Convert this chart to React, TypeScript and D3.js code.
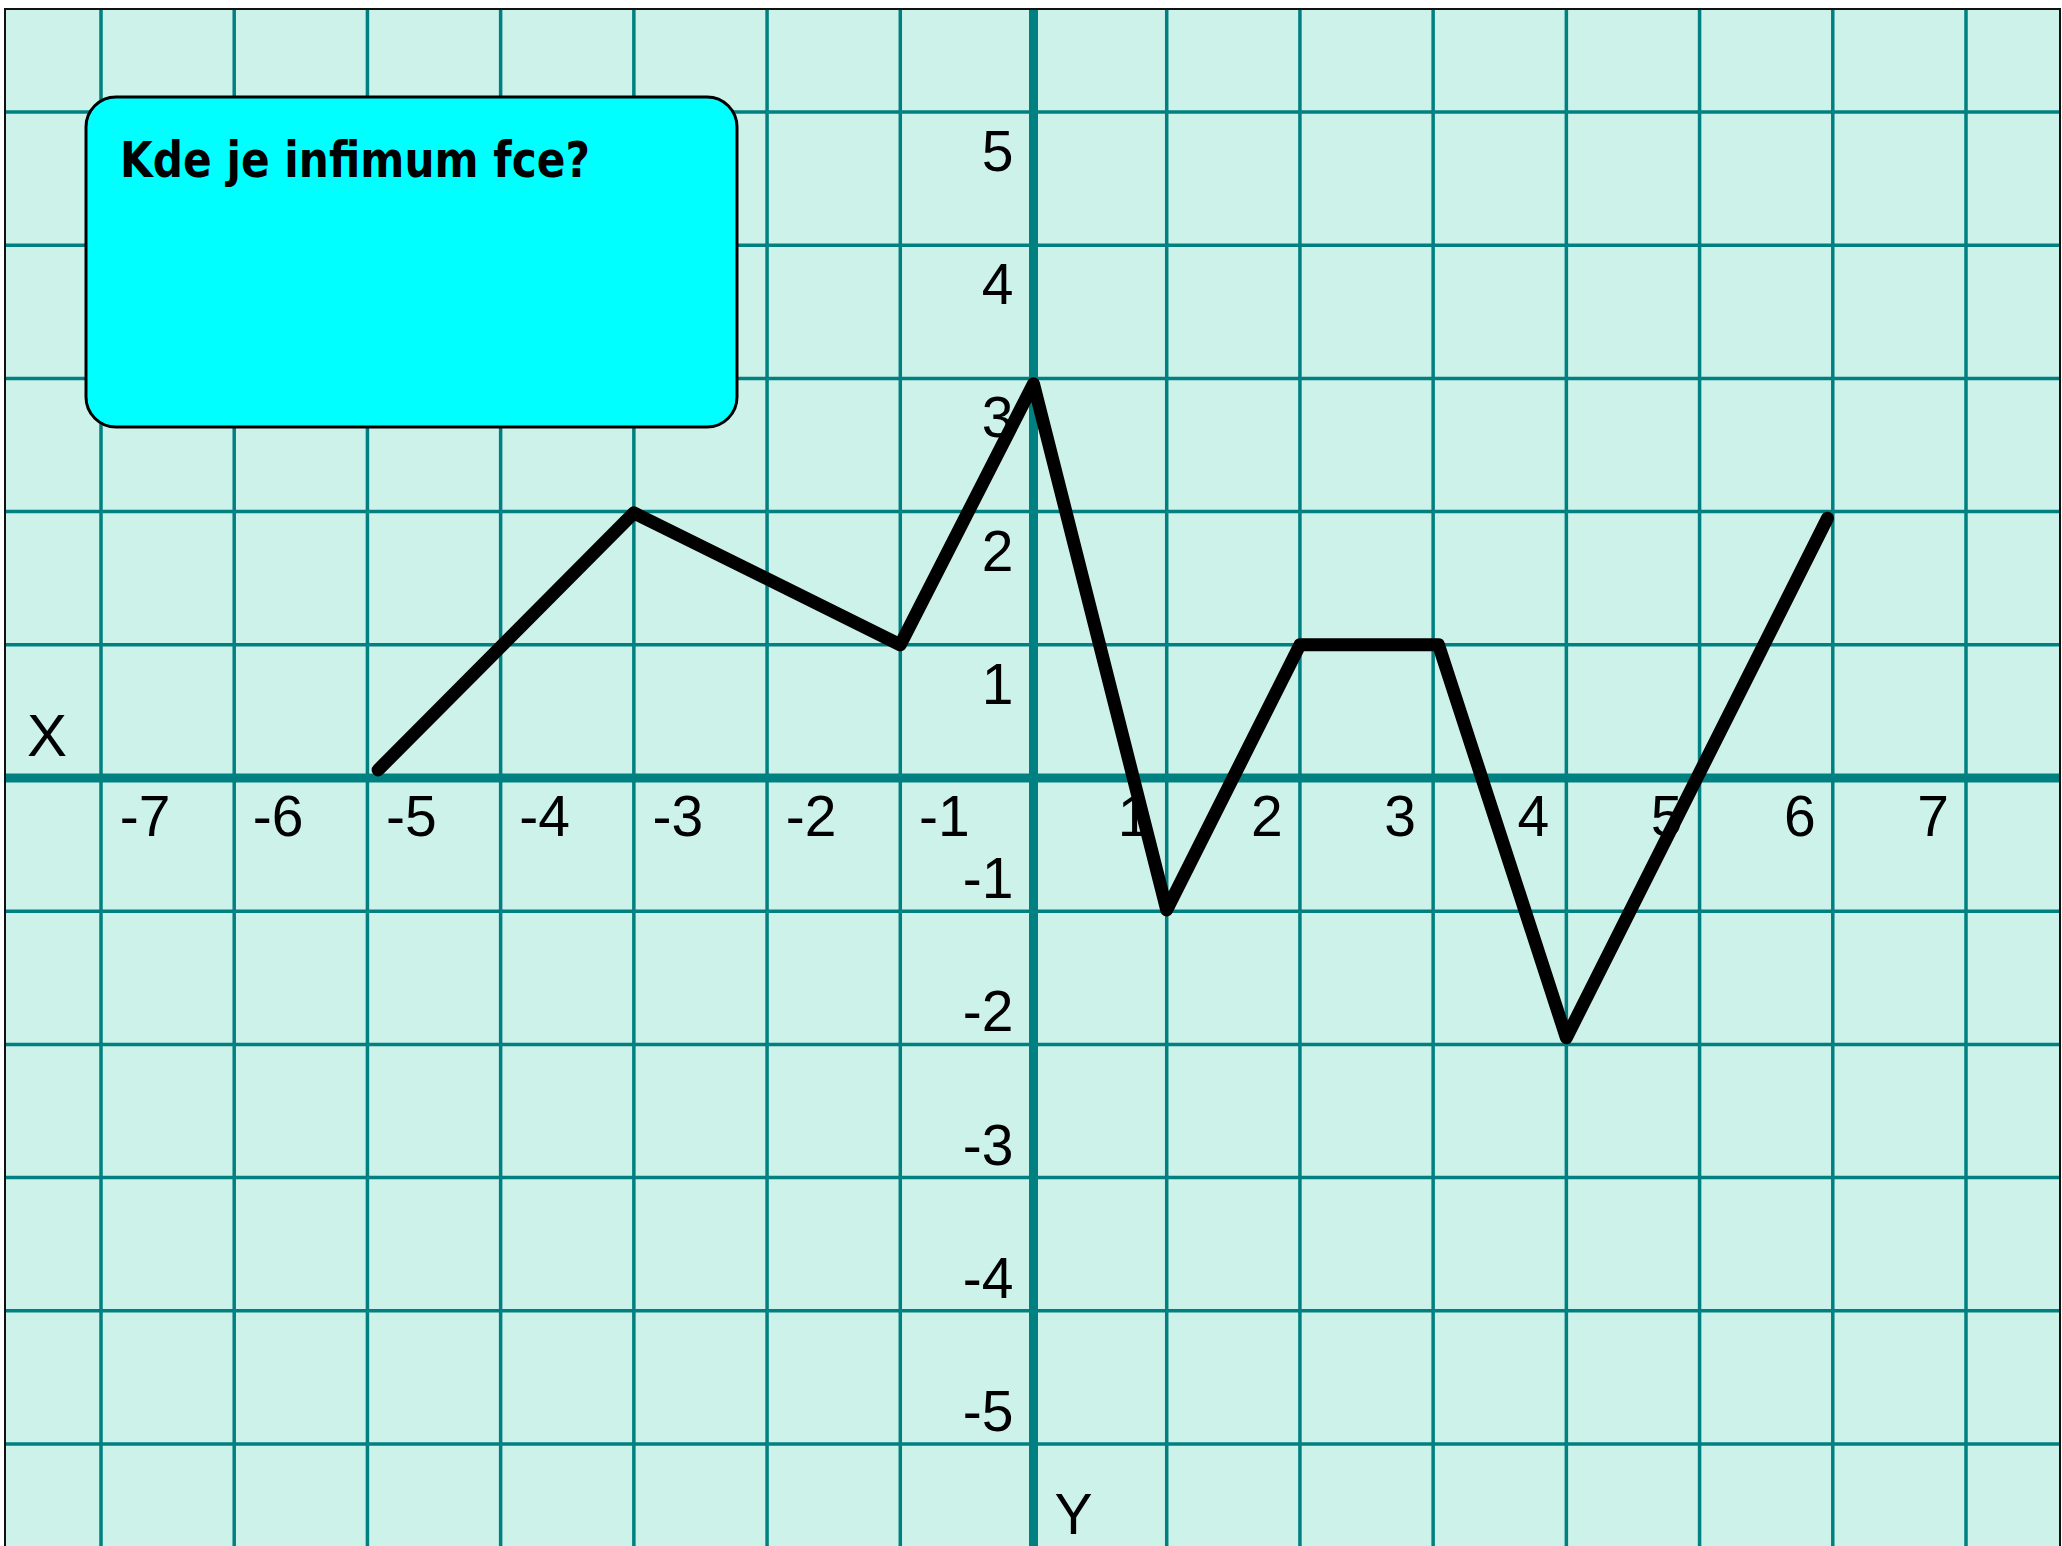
import React, { useEffect, useRef } from 'react';
import * as d3 from 'd3';

// function graph
const pointX = [-4.92, -3, -1, 0, 1, 2, 3, 3.04, 4, 5.96];
const pointY = [0.06, 1.99, 1.0, 2.96, -0.99, 1, 1, 1, -1.95, 1.95];

const gridX = d3.range(-7, 8);
const gridY = d3.range(-5, 6);
const tickX = [-7, -6, -5, -4, -3, -2, -1, 1, 2, 3, 4, 5, 6, 7];
const tickY = [5, 4, 3, 2, 1, -1, -2, -3, -4, -5];

const questionText = 'Kde je infimum fce?';
const axisNameX = 'X';
const axisNameY = 'Y';

const W = 2062;
const H = 1546;

const App = () => {
  const svgRef = useRef(null);

  useEffect(() => {
    const svg = d3.select(svgRef.current);
    svg.selectAll('*').remove();

    const teal = '#008080';
    const x = d3.scaleLinear().domain([-7, 7]).range([101, 1966]);
    const y = d3.scaleLinear().domain([-5, 5]).range([1444, 112]);

    // white page + framed mint area
    svg.append('rect').attr('width', W).attr('height', H).attr('fill', '#fff');
    svg.append('rect')
      .attr('x', 5).attr('y', 9)
      .attr('width', 2055).attr('height', H)
      .attr('fill', '#ccf2ea');

    const grid = svg.append('g');
    grid.selectAll('.vline')
      .data(gridX)
      .enter().append('line')
      .attr('x1', d => x(d)).attr('x2', d => x(d))
      .attr('y1', 9).attr('y2', H)
      .attr('stroke', teal)
      .attr('stroke-width', d => (d === 0 ? 9 : 3.5));

    grid.selectAll('.hline')
      .data(gridY)
      .enter().append('line')
      .attr('y1', d => y(d)).attr('y2', d => y(d))
      .attr('x1', 5).attr('x2', 2060)
      .attr('stroke', teal)
      .attr('stroke-width', d => (d === 0 ? 9 : 3.5));
    // redraw y axis on top of the thin lines
    grid.append('line')
      .attr('x1', x(0)).attr('x2', x(0)).attr('y1', 9).attr('y2', H)
      .attr('stroke', teal).attr('stroke-width', 9);

    svg.append('rect')
      .attr('x', 5).attr('y', 9)
      .attr('width', 2055).attr('height', H + 10)
      .attr('fill', 'none')
      .attr('stroke', '#111').attr('stroke-width', 2);

    const labelFont = '"Liberation Sans", Arial, sans-serif';

    svg.append('g').selectAll('text')
      .data(tickX)
      .enter().append('text')
      .attr('x', d => x(d) + (d < 0 ? 44 : -33))
      .attr('y', y(0) + 58)
      .attr('text-anchor', 'middle')
      .attr('font-family', labelFont)
      .attr('font-size', 57)
      .attr('fill', '#000')
      .text(d => d);

    svg.append('g').selectAll('text')
      .data(tickY)
      .enter().append('text')
      .attr('x', x(0) - 20)
      .attr('y', d => y(d) + (d > 0 ? 59 : -13))
      .attr('text-anchor', 'end')
      .attr('font-family', labelFont)
      .attr('font-size', 57)
      .attr('fill', '#000')
      .text(d => d);

    svg.append('text')
      .attr('x', x(-7) - 54).attr('y', y(0) - 22)
      .attr('text-anchor', 'middle')
      .attr('font-family', labelFont).attr('font-size', 60)
      .text(axisNameX);

    svg.append('text')
      .attr('x', x(0) + 40).attr('y', y(-5) + 90)
      .attr('text-anchor', 'middle')
      .attr('font-family', labelFont).attr('font-size', 57)
      .text(axisNameY);

    // question box
    svg.append('rect')
      .attr('x', 86).attr('y', 97)
      .attr('width', 651).attr('height', 330)
      .attr('rx', 30).attr('ry', 30)
      .attr('fill', '#00ffff')
      .attr('stroke', '#000').attr('stroke-width', 3);

    svg.append('text')
      .attr('x', 120).attr('y', 177)
      .attr('font-family', '"Comic Sans MS", "DejaVu Sans", sans-serif')
      .attr('font-weight', 'bold')
      .attr('font-size', 50)
      .attr('textLength', 470)
      .attr('lengthAdjust', 'spacingAndGlyphs')
      .attr('fill', '#000')
      .text(questionText);

    const pts = pointX.map((v, i) => [v, pointY[i]]);
    const line = d3.line().x(d => x(d[0])).y(d => y(d[1]));

    svg.append('path')
      .datum(pts)
      .attr('d', line)
      .attr('fill', 'none')
      .attr('stroke', '#000')
      .attr('stroke-width', 13)
      .attr('stroke-linejoin', 'round')
      .attr('stroke-linecap', 'round');
  }, []);

  return (
    <svg
      ref={svgRef}
      width={W}
      height={H}
      style={{ position: 'absolute', left: 0, top: 0, display: 'block' }}
    ></svg>
  );
};

export default App;
